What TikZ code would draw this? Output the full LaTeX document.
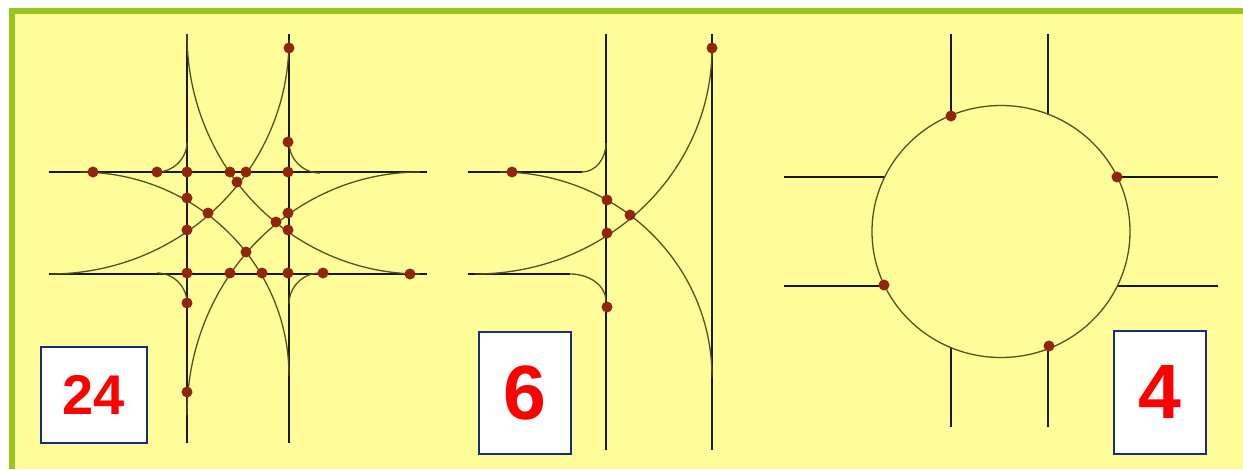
\documentclass[tikz,border=0pt]{standalone}
\usepackage{fontspec}
\setmainfont{Liberation Sans}
\definecolor{padyellow}{RGB}{255,253,153}
\definecolor{framegreen}{RGB}{155,196,32}
\definecolor{roadblack}{RGB}{25,25,20}
\definecolor{patholive}{RGB}{85,82,30}
\definecolor{conflictred}{RGB}{145,38,15}
\definecolor{boxnavy}{RGB}{25,45,120}
\tikzset{
  road/.style={draw=roadblack,line width=2.9pt},
  turn/.style={draw=patholive,line width=1.3pt},
  conflict/.style={fill=conflictred},
  countbox/.style={draw=boxnavy,line width=1.2pt,fill=white,inner sep=0pt,text=red},
}
\begin{document}
\begin{tikzpicture}[x=1pt,y=-1pt]
        \useasboundingbox (0,0) rectangle (1243,469);
        \fill[white] (0,0) rectangle (1243,469);
        \fill[padyellow] (12,11) rectangle (1243,469);
        \draw[framegreen,line width=6pt] (12,469) -- (12,11) -- (1243,11);

        % crossroads
        \draw[road] (187,34) -- (187,443) (289,34) -- (289,443)
          (49,172) -- (427,172) (49,274) -- (427,274);
        \draw[turn] (187,142) arc[start angle=0,end angle=90,radius=30]
          (289,142) arc[start angle=180,end angle=90,radius=31]
          (157,273) arc[start angle=270,end angle=360,radius=30]
          (289,304) arc[start angle=180,end angle=270,radius=31];
        \draw[turn] (187,34) arc[start angle=180,end angle=90,x radius=233,y radius=240]
          (289,40) arc[start angle=0,end angle=90,x radius=239,y radius=234]
          (80,172) arc[start angle=270,end angle=360,x radius=209,y radius=204]
          (420,172) arc[start angle=270,end angle=180,x radius=233,y radius=243];
        \foreach \x/\y in {289/48,288/142,93/172,157/172,187/172,230/172,246/172,288/172,
          237/182,187/198,208/213,288/213,187/230,276/222,288/230,246/252,
          187/273,230/273,262/273,288/273,323/273,410/274,187/303,187/392}
          \fill[conflict] (\x,\y) circle[radius=5.5];
        \node[countbox,minimum width=106pt,minimum height=96pt,font=\fontsize{56}{60}\selectfont\bfseries] (n24) at (94,395) {24};

        % T junction
        \draw[road] (606,34) -- (606,450) (712,34) -- (712,450)
          (468,172) -- (582,172) (468,274) -- (570,274);
        \draw[turn] (606,143) arc[start angle=0,end angle=90,x radius=24,y radius=29]
          (570,274) arc[start angle=270,end angle=360,x radius=36,y radius=27]
          (500,172) arc[start angle=270,end angle=360,x radius=212,y radius=205]
          (712,48) arc[start angle=0,end angle=90,x radius=237,y radius=226];
        \foreach \x/\y in {512/172,607/200,630/215,607/233,607/307,712/48}
          \fill[conflict] (\x,\y) circle[radius=5.5];
        \node[countbox,minimum width=92pt,minimum height=122pt,font=\fontsize{77}{80}\selectfont\bfseries] (n6) at (525,393) {6};

        % roundabout
        \draw[road] (951,34) -- (951,116) (1048,34) -- (1048,115)
          (951,347) -- (951,427) (1048,348) -- (1048,427)
          (784,177) -- (885,177) (1117,177) -- (1218,177)
          (784,286) -- (885,286) (1117,286) -- (1218,286);
        \draw[turn] (1001,231.5) ellipse[x radius=129,y radius=126];
        \foreach \x/\y in {951/116,1117/177,884/285,1049/346}
          \fill[conflict] (\x,\y) circle[radius=5.5];
        \node[countbox,minimum width=92pt,minimum height=123pt,font=\fontsize{77}{80}\selectfont\bfseries] (n4) at (1160,392.5) {4};
\end{tikzpicture}
\end{document}
